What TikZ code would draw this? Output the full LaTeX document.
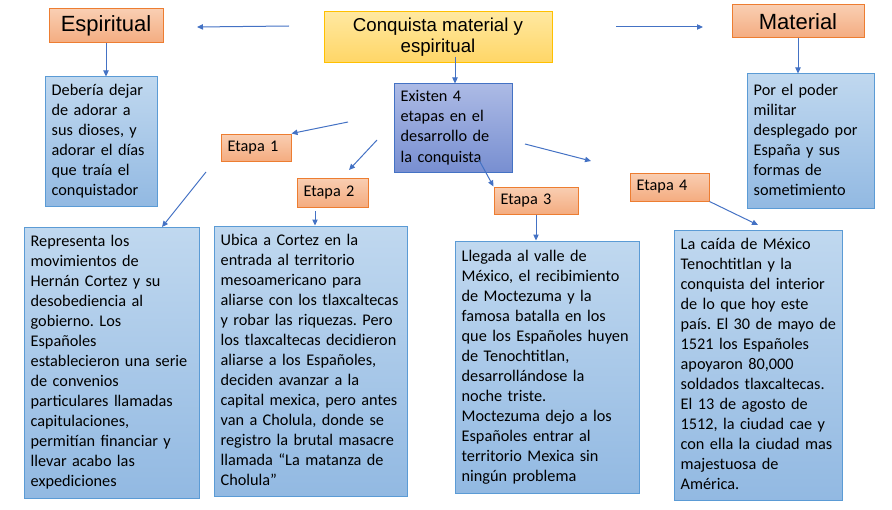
\documentclass[tikz,border=0pt]{standalone}
\usepackage{fontspec}
\setmainfont{Carlito}
\newfontfamily\headfont{Liberation Sans}
\usetikzlibrary{positioning, arrows.meta}
\definecolor{myOrange}{RGB}{237,125,49}
\definecolor{myOrangeTop}{RGB}{249,206,178}
\definecolor{myOrangeBot}{RGB}{244,172,128}
\definecolor{myYellow}{RGB}{255,192,0}
\definecolor{myYellowTop}{RGB}{255,232,160}
\definecolor{myYellowBot}{RGB}{255,214,102}
\definecolor{myBlue}{RGB}{91,155,213}
\definecolor{myBlueTop}{RGB}{192,216,239}
\definecolor{myBlueBot}{RGB}{146,185,226}
\definecolor{myIndigo}{RGB}{68,114,196}
\definecolor{myIndigoTop}{RGB}{172,186,229}
\definecolor{myIndigoBot}{RGB}{120,143,209}
\newcommand{\boxlines}[1]{\begin{tabular}{@{}l@{}}#1\end{tabular}}
\frenchspacing

\begin{document}
\begin{tikzpicture}[
  x=0.75pt, y=-0.75pt,
  box/.style={draw, line width=0.75pt, inner xsep=5pt, inner ysep=0pt, align=left,
    font=\fontsize{12.2}{15}\selectfont},
  head/.style={box, draw=myOrange, top color=myOrangeTop, bottom color=myOrangeBot,
    align=center, font=\headfont\fontsize{16.5}{19}\selectfont},
  stage/.style={box, draw=myOrange, top color=myOrangeTop, bottom color=myOrangeBot},
  info/.style={box, draw=myBlue, top color=myBlueTop, bottom color=myBlueBot},
  link/.style={draw=myIndigo, line width=0.75pt, -{Triangle[length=4.5pt, width=4pt]}},
]
  \useasboundingbox (0,0) rectangle (892,510);

  \node[box, draw=myYellow, top color=myYellowTop, bottom color=myYellowBot,
        align=center, font=\headfont\fontsize{14}{15.75}\selectfont,
        minimum width=171pt, minimum height=38.25pt] (conq) at (438,37.5)
    {Conquista material y\\espiritual};
  \node[head, minimum width=85.5pt, minimum height=25.5pt] (esp) at (106,26) {Espiritual};
  \node[head, minimum width=99pt, minimum height=24.75pt] (mat) at (798,21.5) {Material};

  \node[info, minimum width=84pt, minimum height=96.75pt, text width=74pt] (deb) at (101,141.5)
    {\boxlines{Debería dejar\\de adorar a\\sus dioses, y\\adorar el días\\que traía el\\conquistador}};
  \node[info, minimum width=95.25pt, minimum height=100.5pt, text width=85.25pt] (poder) at (810.5,141)
    {\boxlines{Por el poder\\militar\\desplegado por\\España y sus\\formas de\\sometimiento}};
  \node[box, draw=myIndigo, top color=myIndigoTop, bottom color=myIndigoBot,
        minimum width=88.5pt, minimum height=66pt, text width=78.5pt] (exi) at (453,128)
    {\boxlines{Existen 4\\etapas en el\\desarrollo de\\la conquista}};

  \node[stage, minimum width=52.5pt, minimum height=20.25pt, text width=42.5pt] (et1) at (256,147.5) {Etapa 1};
  \node[stage, minimum width=53.25pt, minimum height=21.75pt, text width=43.25pt] (et2) at (332.5,192.5) {Etapa 2};
  \node[stage, minimum width=63pt, minimum height=20.25pt, text width=53pt] (et3) at (536,200.5) {Etapa 3};
  \node[stage, minimum width=59.25pt, minimum height=21pt, text width=49.25pt] (et4) at (669.5,187) {Etapa 4};

  \node[info, minimum width=131.25pt, minimum height=203.25pt, text width=121.25pt] (rep) at (111.5,362.5)
    {\boxlines{Representa los\\movimientos de\\Hernán Cortez y su\\desobediencia al\\gobierno. Los\\Españoles\\
     establecieron una serie\\de convenios\\particulares llamadas\\capitulaciones,\\
     permitían financiar y\\llevar acabo las\\expediciones}};
  \node[info, minimum width=144.75pt, minimum height=202.5pt, text width=134.75pt] (ubi) at (310.5,361)
    {\boxlines{Ubica a Cortez en la\\entrada al territorio\\mesoamericano para\\aliarse con los tlaxcaltecas\\
     y robar las riquezas. Pero\\los tlaxcaltecas decidieron\\aliarse a los Españoles,\\
     deciden avanzar a la\\capital mexica, pero antes\\van a Cholula, donde se\\
     registro la brutal masacre\\llamada “La matanza de\\Cholula”}};
  \node[info, minimum width=138pt, minimum height=189pt, text width=128pt] (lle) at (547,367)
    {\boxlines{Llegada al valle de\\México, el recibimiento\\de Moctezuma y la\\famosa batalla en los\\
     que los Españoles huyen\\de Tenochtitlan,\\desarrollándose la\\noche triste.\\
     Moctezuma dejo a los\\Españoles entrar al\\territorio Mexica sin\\ningún problema}};
  \node[info, minimum width=126pt, minimum height=202.5pt, text width=116pt] (cai) at (758,365)
    {\boxlines{La caída de México\\Tenochtitlan y la\\conquista del interior\\de lo que hoy este\\
     país. El 30 de mayo de\\1521 los Españoles\\apoyaron 80,000\\soldados tlaxcaltecas.\\
     El 13 de agosto de\\1512, la ciudad cae y\\con ella la ciudad mas\\majestuosa de\\América.}};

  \coordinate (espTail) at (289,26);
  \coordinate (espTip) at (197,27);
  \coordinate (matTail) at (616,27);
  \coordinate (matTip) at (703,27);
  \coordinate (conqFoot) at (455,57);
  \coordinate (oneTail) at (348,122);
  \coordinate (twoTail) at (377,140);
  \coordinate (twoTip) at (349,170);
  \coordinate (repTail) at (206,172);
  \coordinate (repTip) at (162,227);
  \coordinate (ubiTail) at (315,211);
  \coordinate (threeTail) at (479,160);
  \coordinate (fourTail) at (525,144);
  \coordinate (fourTip) at (591,161);
  \coordinate (caiTip) at (758,225);

  \draw[link] (espTail) -- (espTip);
  \draw[link] (matTail) -- (matTip);
  \draw[link] (esp.south) -- (esp.south |- deb.north);
  \draw[link] (mat.south) -- (mat.south |- poder.north);
  \draw[link] (conqFoot) -- (conqFoot |- exi.north);
  \draw[link] (oneTail) -- (et1.north east);
  \draw[link] (twoTail) -- (twoTip);
  \draw[link] (threeTail) -- (et3.north west);
  \draw[link] (fourTail) -- (fourTip);
  \draw[link] (repTail) -- (repTip);
  \draw[link] (ubiTail) -- (ubiTail |- ubi.north);
  \draw[link] (et3.south) -- (et3.south |- lle.north);
  \draw[link] (et4.south east) -- (caiTip);
\end{tikzpicture}
\end{document}
